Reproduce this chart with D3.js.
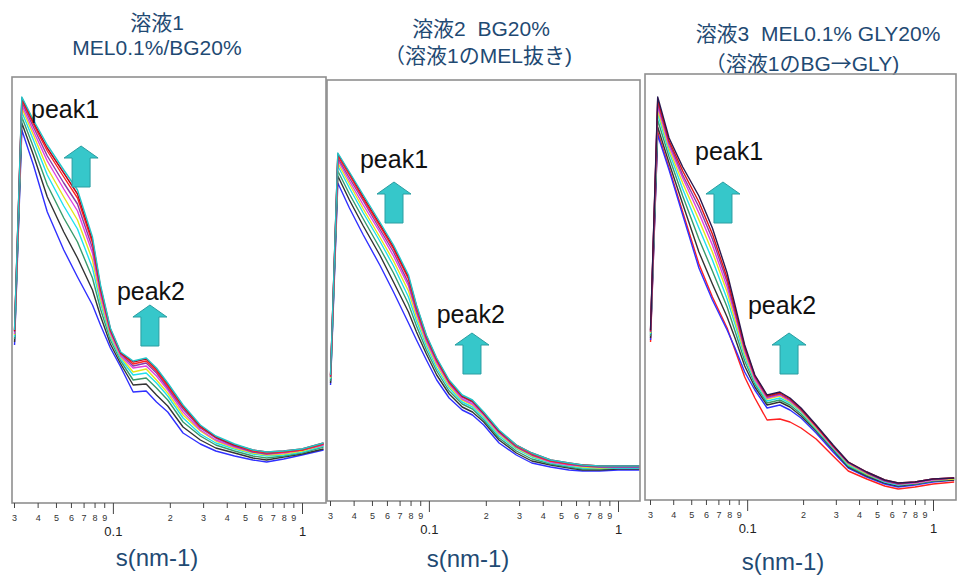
<!DOCTYPE html>
<html>
<head>
<meta charset="utf-8">
<script src="https://cdn.jsdelivr.net/npm/d3@7"></script>
<style>
  body { margin: 0; background: #fff; }
  text { font-family: "Liberation Sans", "Noto Sans CJK JP", Arial, sans-serif; }
</style>
</head>
<body>
<svg id="chart" width="958" height="577"></svg>
<script>
//---------------------------------- Data --------------------
// scattering vector s (nm-1), shared by all curves
var sGrid = [0.0302, 0.033, 0.038, 0.045, 0.055, 0.065, 0.078, 0.086, 0.097, 0.11, 0.128, 0.15, 0.17, 0.195, 0.235, 0.29, 0.35, 0.44, 0.55, 0.65, 0.8, 1.0, 1.3];

// panel 1 : 溶液1 (intensity, arbitrary units), low -> high
var p1_blue     = [155, 370, 335, 288, 250, 223, 195, 175, 152, 133, 108, 109, 98, 88, 67, 56, 49, 44, 40, 38, 41, 45, 50];
var p1_black    = [158, 377, 345, 303, 268, 242, 210, 184, 156, 136, 115, 116, 105, 94, 73, 60, 52, 47, 42, 40, 43, 46, 51];
var p1_green    = [161, 383, 353, 315, 282, 258, 222, 191, 160, 139, 120, 122, 112, 100, 78, 64, 55, 49, 44, 42, 44, 47, 53];
var p1_cyan     = [163, 388, 360, 325, 294, 271, 232, 197, 163, 141, 125, 127, 117, 104, 82, 66, 57, 51, 46, 44, 45, 48, 54];
var p1_yellow   = [165, 392, 365, 332, 303, 280, 240, 201, 165, 143, 128, 131, 120, 107, 85, 69, 59, 52, 47, 45, 46, 49, 55];
var p1_magenta  = [166, 395, 369, 339, 311, 289, 247, 205, 167, 144, 132, 134, 124, 110, 88, 70, 60, 53, 48, 46, 47, 50, 55];
var p1_purple   = [168, 398, 373, 344, 317, 296, 252, 209, 169, 146, 134, 137, 127, 112, 91, 72, 62, 54, 48, 46, 48, 50, 56];
var p1_red      = [169, 400, 376, 349, 323, 302, 257, 211, 170, 147, 136, 139, 129, 114, 93, 73, 63, 55, 49, 47, 48, 50, 56];
var p1_darkred  = [169, 402, 378, 352, 327, 306, 260, 213, 171, 147, 138, 141, 131, 116, 94, 74, 63, 55, 50, 48, 49, 51, 57];
var p1_teal     = [170, 403, 380, 355, 330, 310, 263, 215, 172, 148, 139, 142, 132, 117, 95, 75, 64, 56, 50, 48, 49, 51, 57];

// panel 2 : 溶液2
var p2_blue     = [115, 317, 292, 265, 235, 208, 177, 160, 140, 120, 102, 90, 85, 75, 57, 45, 37, 33, 30, 29, 29, 30, 30];
var p2_black    = [117, 324, 300, 274, 245, 218, 188, 168, 146, 125, 106, 93, 88, 78, 60, 47, 39, 35, 32, 30, 30, 31, 31];
var p2_green    = [119, 329, 306, 281, 252, 227, 196, 174, 150, 129, 109, 96, 91, 80, 62, 49, 41, 36, 33, 31, 31, 32, 32];
var p2_cyan     = [121, 334, 312, 287, 259, 234, 203, 179, 154, 132, 112, 98, 93, 82, 64, 51, 43, 37, 34, 32, 32, 32, 32];
var p2_yellow   = [122, 337, 316, 291, 263, 239, 209, 183, 157, 135, 114, 100, 95, 84, 66, 52, 44, 38, 35, 33, 32, 33, 33];
var p2_magenta  = [123, 340, 319, 295, 268, 244, 214, 187, 159, 137, 116, 101, 96, 85, 67, 53, 45, 38, 35, 34, 33, 33, 33];
var p2_purple   = [123, 342, 322, 299, 271, 248, 217, 189, 161, 139, 117, 103, 98, 86, 68, 53, 45, 39, 36, 34, 33, 33, 33];
var p2_red      = [124, 344, 325, 301, 274, 251, 221, 192, 163, 140, 118, 104, 99, 87, 69, 54, 46, 39, 36, 35, 34, 34, 34];
var p2_darkred  = [125, 346, 327, 303, 276, 253, 223, 194, 164, 141, 119, 104, 99, 87, 69, 55, 47, 40, 37, 35, 34, 34, 34];
var p2_teal     = [125, 347, 328, 305, 278, 255, 225, 195, 165, 142, 120, 105, 100, 88, 70, 55, 47, 40, 37, 35, 34, 34, 34];

// panel 3 : 溶液3
var p3_redlow   = [158, 368, 332, 288, 236, 203, 172, 150, 123, 102, 80, 81, 78, 72, 61, 44, 29, 21, 14, 11, 13, 16, 18];
var p3_blue     = [160, 365, 330, 285, 232, 200, 170, 152, 128, 110, 92, 95, 90, 82, 67, 48, 32, 23, 16, 13, 15, 18, 20];
var p3_black    = [162, 373, 337, 296, 248, 216, 183, 162, 134, 113, 95, 98, 93, 84, 69, 50, 33, 24, 17, 14, 16, 19, 20];
var p3_green    = [164, 380, 343, 304, 261, 229, 193, 169, 139, 116, 97, 100, 95, 86, 70, 51, 34, 25, 18, 15, 16, 19, 21];
var p3_cyan     = [166, 386, 348, 311, 272, 240, 201, 176, 143, 118, 99, 102, 97, 88, 71, 52, 35, 26, 18, 15, 17, 20, 21];
var p3_yellow   = [167, 390, 351, 317, 280, 248, 208, 180, 146, 120, 101, 104, 98, 89, 72, 53, 36, 26, 19, 16, 17, 20, 21];
var p3_magenta  = [168, 394, 354, 322, 287, 255, 213, 185, 149, 121, 102, 105, 99, 90, 73, 53, 37, 27, 19, 16, 17, 20, 22];
var p3_purple   = [168, 397, 357, 325, 293, 261, 218, 188, 151, 123, 103, 106, 100, 90, 74, 54, 37, 27, 19, 16, 18, 21, 22];
var p3_red      = [169, 400, 359, 329, 298, 266, 222, 191, 153, 124, 104, 107, 101, 91, 74, 54, 38, 28, 20, 17, 18, 21, 22];
var p3_navy     = [170, 403, 362, 333, 304, 272, 227, 195, 155, 125, 105, 108, 102, 92, 75, 55, 38, 28, 20, 17, 18, 21, 22];

var colors12 = ["#3030ff", "#333333", "#3a9a6a", "#20e0ee", "#e4e41c", "#e040e0", "#8a3aa8", "#ff2020", "#c00018", "#22c4c8"];
var colors3  = ["#ff2020", "#3030ff", "#333333", "#3a9a6a", "#20e0ee", "#e4e41c", "#e040e0", "#8a3aa8", "#e01010", "#2a1850"];

// titles
var p1Title = ["溶液1", "MEL0.1%/BG20%"];
var p2Title = ["溶液2\u00a0\u00a0BG20%", "（溶液1のMEL抜き)"];
var p3Title = ["溶液3\u00a0\u00a0MEL0.1% GLY20%", "（溶液1のBG→GLY)"];
var axisTitle = "s(nm-1)";

// ticks
var minorTicks = [0.03, 0.04, 0.05, 0.06, 0.07, 0.08, 0.09, 0.2, 0.3, 0.4, 0.5, 0.6, 0.7, 0.8, 0.9];
var minorTickLabels = ["3", "4", "5", "6", "7", "8", "9", "2", "3", "4", "5", "6", "7", "8", "9"];
var majorTicks = [0.1, 1];
var majorTickLabels = ["0.1", "1"];

// annotations [s, intensity]
var p1Peak1 = [0.0369, 382], p1Arrow1 = [0.0679, 354], p1Peak2 = [0.105, 200], p1Arrow2 = [0.157, 195];
var p2Peak1 = [0.0432, 332], p2Arrow1 = [0.0654, 318], p2Peak2 = [0.110, 177], p2Arrow2 = [0.169, 167];
var p3Peak1 = [0.0524, 340], p3Arrow1 = [0.0741, 318], p3Peak2 = [0.101, 186], p3Arrow2 = [0.168, 167];

//---------------------------------- Layout --------------------
var panels = [
  {left: 12,  right: 326, top: 77, bottom: 503, x0: 14,  x1: 302, titleX: [157, 157], titleY: [30, 55], axisX: 157, axisY: 566,
   title: p1Title, colors: colors12, ann: [p1Peak1, p1Arrow1, p1Peak2, p1Arrow2],
   curves: [p1_blue, p1_black, p1_green, p1_cyan, p1_yellow, p1_magenta, p1_purple, p1_red, p1_darkred, p1_teal]},
  {left: 327, right: 640, top: 80, bottom: 501, x0: 330, x1: 618, titleX: [481, 478], titleY: [36, 63], axisX: 468, axisY: 567,
   title: p2Title, colors: colors12, ann: [p2Peak1, p2Arrow1, p2Peak2, p2Arrow2],
   curves: [p2_blue, p2_black, p2_green, p2_cyan, p2_yellow, p2_magenta, p2_purple, p2_red, p2_darkred, p2_teal]},
  {left: 645, right: 956, top: 74, bottom: 500, x0: 650, x1: 933, titleX: [818, 802], titleY: [41, 71], axisX: 783, axisY: 570,
   title: p3Title, colors: colors3, ann: [p3Peak1, p3Arrow1, p3Peak2, p3Arrow2],
   curves: [p3_redlow, p3_blue, p3_black, p3_green, p3_cyan, p3_yellow, p3_magenta, p3_purple, p3_red, p3_navy]}
];

var svg = d3.select("#chart");

// intensity -> pixel (shared)
var y_scale = d3.scaleLinear().domain([0, 430]).range([500, 70]);

var arrowPath = "M0,0 L17,12 L9,12 L9,41 L-9,41 L-9,12 L-17,12 Z";

panels.forEach(function(p, pi) {

  var x_scale = d3.scaleLog().domain([0.03, 1]).range([p.x0, p.x1]);
  var g = svg.append("g").attr("class", "panel" + (pi + 1));

  // ---------- titles (arrow glyph from the CJK font) ----------
  g.selectAll(".title").data(p.title).enter().append("text")
    .attr("class", "title")
    .attr("x", function(d, i) { return p.titleX[i]; })
    .attr("y", function(d, i) { return p.titleY[i]; })
    .attr("text-anchor", "middle")
    .style("font-size", "21px")
    .style("fill", "#1f4a73")
    .each(function(d) {
      var t = d3.select(this);
      d.split("→").forEach(function(part, k) {
        if (k > 0) t.append("tspan").style("font-family", "'Noto Sans CJK JP'").text("→");
        t.append("tspan").text(part);
      });
    });

  // ---------- clip ----------
  g.append("clipPath").attr("id", "clip" + pi)
    .append("rect")
    .attr("x", p.left).attr("y", p.top)
    .attr("width", p.right - p.left).attr("height", p.bottom - p.top);

  // ---------- curves ----------
  var line = d3.line()
    .x(function(d, i) { return x_scale(sGrid[i]); })
    .y(function(d) { return y_scale(d); });

  g.append("g").attr("clip-path", "url(#clip" + pi + ")")
    .selectAll(".curve").data(p.curves).enter().append("path")
    .attr("class", "curve")
    .attr("d", line)
    .style("fill", "none")
    .style("stroke", function(d, i) { return p.colors[i]; })
    .style("stroke-width", 1.4)
    .style("stroke-linejoin", "round");

  // ---------- frame ----------
  g.append("rect")
    .attr("x", p.left).attr("y", p.top)
    .attr("width", p.right - p.left).attr("height", p.bottom - p.top)
    .style("fill", "none")
    .style("stroke", "#8f8f8f")
    .style("stroke-width", 1.6);

  // ---------- axis ----------
  var minorAxis = d3.axisBottom(x_scale)
    .tickValues(minorTicks)
    .tickFormat(function(d, i) { return minorTickLabels[i]; })
    .tickSize(5).tickSizeOuter(0).tickPadding(7);
  var majorAxis = d3.axisBottom(x_scale)
    .tickValues(majorTicks)
    .tickFormat(function(d, i) { return majorTickLabels[i]; })
    .tickSize(11).tickSizeOuter(0).tickPadding(13);

  var ga = g.append("g").attr("transform", "translate(0," + p.bottom + ")").call(minorAxis);
  ga.select(".domain").remove();
  ga.selectAll("line").style("stroke", "#444");
  ga.selectAll("text").style("font-size", "9px").style("fill", "#333").style("font-family", null);

  var gb = g.append("g").attr("transform", "translate(0," + p.bottom + ")").call(majorAxis);
  gb.select(".domain").remove();
  gb.selectAll("line").style("stroke", "#444");
  gb.selectAll("text").style("font-size", "13px").style("fill", "#222").style("font-family", null);

  g.append("text")
    .attr("x", p.axisX)
    .attr("y", p.axisY)
    .attr("text-anchor", "middle")
    .style("font-size", "24px")
    .style("fill", "#1f4a73")
    .text(axisTitle);

  // ---------- peak labels + arrows ----------
  [p.ann[0], p.ann[2]].forEach(function(a, k) {
    g.append("text")
      .attr("x", x_scale(a[0]))
      .attr("y", y_scale(a[1]))
      .style("font-size", "25px")
      .style("fill", "#111")
      .text("peak" + (k + 1));
  });
  [p.ann[1], p.ann[3]].forEach(function(a) {
    g.append("path")
      .attr("transform", "translate(" + x_scale(a[0]) + "," + y_scale(a[1]) + ")")
      .attr("d", arrowPath)
      .style("fill", "#36c7ca")
      .style("stroke", "#2a9ea2")
      .style("stroke-width", 1);
  });
});
</script>
</body>
</html>
